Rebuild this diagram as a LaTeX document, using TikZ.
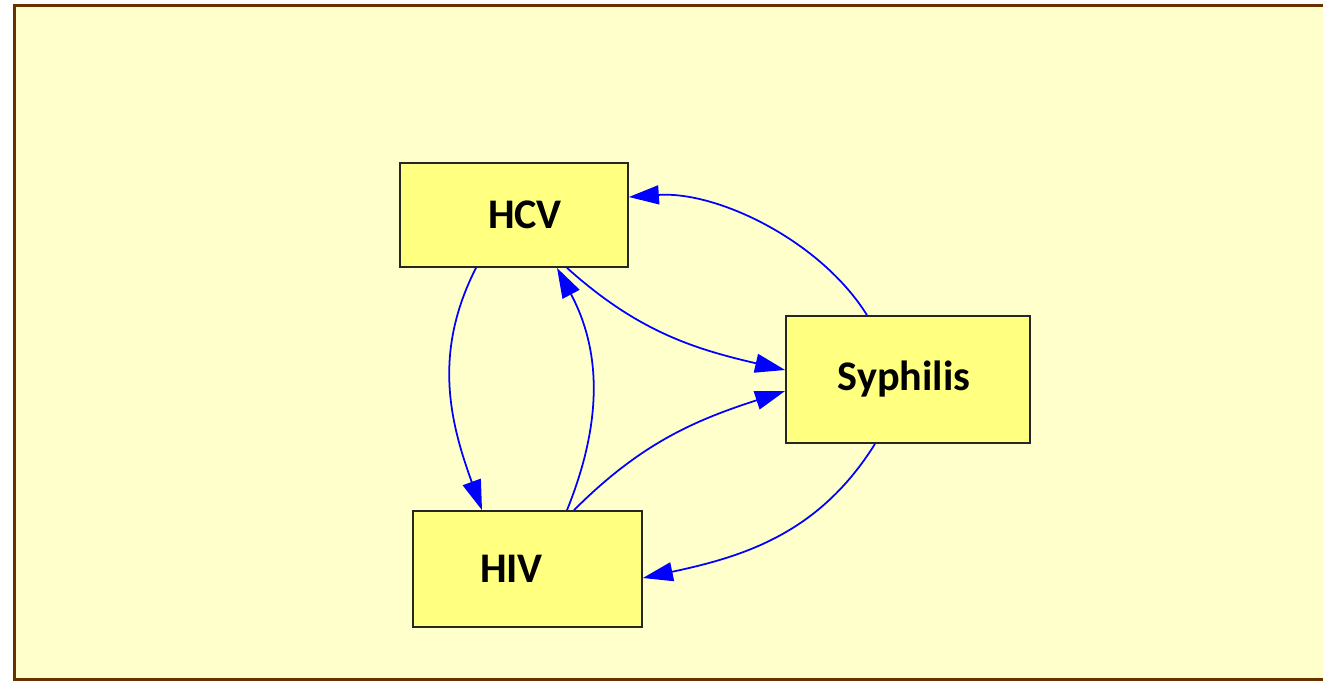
\documentclass[tikz,border=0pt]{standalone}
\usepackage{fontspec}
\setmainfont{Carlito}
\usetikzlibrary{arrows.meta}

\definecolor{paper}{RGB}{255,255,204}
\definecolor{frame}{RGB}{102,51,0}
\definecolor{boxfill}{RGB}{255,255,128}

\begin{document}
\begin{tikzpicture}[
  >={Triangle[length=6mm,width=3.8mm]},
  every node/.style={font=\fontsize{24}{28}\selectfont\bfseries},
  disease node/.style={rectangle,draw=black!85,line width=1pt,fill=boxfill,inner sep=0pt},
  link/.style={->,draw=blue,line width=1pt},
]
\useasboundingbox (0,0) rectangle (26.46,13.62);
% background panel, open on the right
\fill[paper] (0.29,0.04) rectangle (26.46,13.51);
\draw[frame,line width=0.06cm] (26.46,13.51) -- (0.29,13.51) -- (0.29,0.04) -- (26.46,0.04);
% the three infections
\node[disease node,minimum width=4.56cm,minimum height=2.08cm,
      label={[xshift=0.22cm]center:HCV}] (hcv) at (10.28,9.32) {};
\node[disease node,minimum width=4.88cm,minimum height=2.54cm,
      label={[xshift=-0.08cm]center:Syphilis}] (syph) at (18.16,6.03) {};
\node[disease node,minimum width=4.58cm,minimum height=2.32cm,
      label={[xshift=-0.32cm]center:HIV}] (hiv) at (10.55,2.24) {};
% links
\draw[link] ([xshift=-0.82cm]syph.north) to[out=122,in=4,looseness=0.85] ([yshift=0.36cm]hcv.east);
\draw[link] ([xshift=1.06cm]hcv.south) to[out=-42,in=167] ([yshift=0.19cm]syph.west);
\draw[link] ([xshift=0.93cm]hiv.north) to[out=45,in=-162] ([yshift=-0.23cm]syph.west);
\draw[link] ([xshift=-0.66cm]syph.south) to[out=-122,in=12] ([yshift=-0.18cm]hiv.east);
\draw[link] ([xshift=-0.76cm]hcv.south) to[out=-117,in=110] ([xshift=-0.91cm]hiv.north);
\draw[link] ([xshift=0.79cm]hiv.north) to[out=68,in=-62] ([xshift=0.86cm]hcv.south);
\end{tikzpicture}
\end{document}
